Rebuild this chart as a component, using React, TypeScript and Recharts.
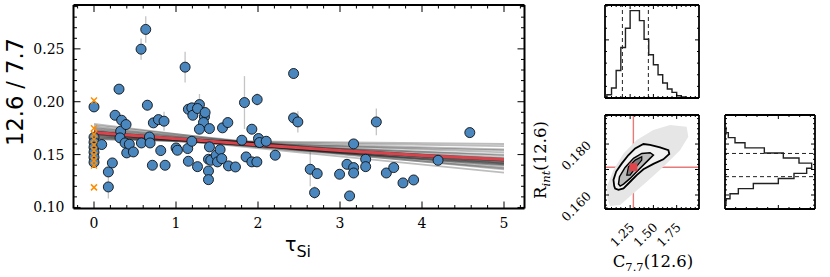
import React from "react";
import {
  ComposedChart,
  Scatter,
  Line,
  XAxis,
  YAxis,
  ErrorBar,
  ReferenceLine,
} from "recharts";

// ---- main panel: tau_Si vs 12.6/7.7 ----
const tauSi = [
  0, 0, 0, 0, 0, 0, 0, 0.094, 0.175, 0.175,
  0.224, 0.257, 0.305, 0.337, 0.325, 0.317, 0.391, 0.379, 0.399, 0.431,
  0.48, 0.574, 0.631, 0.651, 0.578, 0.676, 0.684, 0.712, 0.724, 0.786,
  0.814, 0.854, 0.867, 1.001, 1.017, 1.111, 1.143, 1.151, 1.151, 1.193,
  1.205, 1.193, 1.262, 1.286, 1.262, 1.347, 1.335, 1.355, 1.286, 1.408,
  1.396, 1.408, 1.396, 1.396, 1.424, 1.49, 1.506, 1.538, 1.558, 1.567,
  1.632, 1.64, 1.725, 1.803, 1.835, 1.855, 1.925, 1.925, 1.986, 1.99,
  2.006, 2.019, 2.1, 2.21, 2.434, 2.434, 2.486, 2.637, 2.69, 2.722,
  2.995, 3.085, 3.117, 3.166, 3.166, 3.166, 3.313, 3.313, 3.443, 3.565,
  3.655, 3.768, 3.898, 4.196, 4.583,
];
const ratio = [
  0.1951, 0.1664, 0.1616, 0.1569, 0.1522, 0.1474, 0.1427, 0.1595, 0.1336, 0.1194,
  0.1421, 0.1872, 0.2119, 0.1825, 0.1721, 0.1658, 0.1784, 0.161, 0.1516, 0.1598,
  0.1525, 0.2497, 0.2684, 0.1967, 0.161, 0.1667, 0.161, 0.1399, 0.18, 0.1831,
  0.1538, 0.1816, 0.1399, 0.1563, 0.1541, 0.2327, 0.1557, 0.1437, 0.1929, 0.1942,
  0.1872, 0.1626, 0.1386, 0.1973, 0.1936, 0.1857, 0.1803, 0.1898, 0.174, 0.1746,
  0.1456, 0.1573, 0.1345, 0.1263, 0.1446, 0.1494, 0.1431, 0.1547, 0.1462, 0.1753,
  0.1803, 0.1393, 0.1383, 0.1636, 0.1992, 0.1478, 0.174, 0.1431, 0.1431, 0.2021,
  0.1652, 0.1614, 0.1626, 0.1494, 0.2267, 0.1847, 0.1809, 0.1361, 0.114, 0.132,
  0.1314, 0.1408, 0.1109, 0.1601, 0.1377, 0.1326, 0.1456, 0.1386, 0.1809, 0.1326,
  0.1377, 0.1232, 0.126, 0.1446, 0.1708,
];
const ratioErr = [
  0.004, 0.003, 0.003, 0.003, 0.003, 0.003, 0.003, 0.003, 0.004, 0.011,
  0.003, 0.003, 0.003, 0.003, 0.003, 0.003, 0.003, 0.003, 0.003, 0.003,
  0.003, 0.01, 0.0125, 0.005, 0.003, 0.003, 0.003, 0.003, 0.003, 0.003,
  0.003, 0.009, 0.003, 0.003, 0.003, 0.0145, 0.003, 0.003, 0.003, 0.003,
  0.003, 0.003, 0.003, 0.01, 0.003, 0.003, 0.003, 0.003, 0.003, 0.003,
  0.003, 0.003, 0.003, 0.003, 0.003, 0.003, 0.003, 0.003, 0.003, 0.003,
  0.003, 0.003, 0.003, 0.003, 0.025, 0.003, 0.003, 0.003, 0.003, 0.006,
  0.003, 0.003, 0.003, 0.003, 0.005, 0.003, 0.01, 0.016, 0.006, 0.003,
  0.003, 0.003, 0.003, 0.003, 0.003, 0.003, 0.003, 0.003, 0.0126, 0.003,
  0.003, 0.003, 0.003, 0.003, 0.003,
];

// sources at tau = 0 (orange crosses)
const limitTau = [0, 0, 0, 0, 0, 0, 0, 0, 0, 0];
const limitRatio = [0.2011, 0.1749, 0.1695, 0.1648, 0.1591, 0.1538, 0.1491, 0.1443, 0.1396, 0.119];

// posterior draws, sampled at three tau values
const drawTau = [0, 2.5, 5];
const drawStart = [0.179, 0.1775, 0.176, 0.175, 0.174, 0.1732, 0.1725, 0.1718, 0.1712, 0.1705, 0.17, 0.1695, 0.169, 0.1685, 0.1678, 0.1672, 0.1665, 0.1658, 0.165, 0.1645, 0.172, 0.1708, 0.1698, 0.1715, 0.1712, 0.1702, 0.1718, 0.1706];
const drawMid = [0.156, 0.1575, 0.1545, 0.158, 0.155, 0.157, 0.1535, 0.156, 0.1575, 0.155, 0.158, 0.154, 0.1565, 0.159, 0.1555, 0.16, 0.157, 0.161, 0.159, 0.162, 0.152, 0.1565, 0.156, 0.1545, 0.1558, 0.1555, 0.1552, 0.1562];
const drawEnd = [0.138, 0.142, 0.136, 0.145, 0.14, 0.144, 0.137, 0.143, 0.147, 0.142, 0.149, 0.141, 0.146, 0.152, 0.145, 0.155, 0.15, 0.158, 0.154, 0.16, 0.133, 0.145, 0.144, 0.14, 0.1435, 0.1445, 0.1415, 0.1465];

// best fit
const bestTau = [0, 1, 2, 3, 4, 5];
const bestRatio = [0.171, 0.165, 0.1592, 0.1538, 0.1492, 0.1453];

const mainXMajor = [0, 1, 2, 3, 4, 5];
const mainYMajor = [0.1, 0.15, 0.2, 0.25];

// ---- corner plot ----
const cBinLeft = [1.0, 1.05, 1.1, 1.15, 1.2, 1.25, 1.3, 1.35, 1.4, 1.45, 1.5, 1.55, 1.6, 1.65, 1.7, 1.75, 1.8];
const cCounts = [10, 30, 83, 152, 210, 263, 263, 233, 177, 130, 100, 70, 45, 27, 17, 7, 3];
const cQuantiles = [1.167, 1.446];

const rBinLow = [0.1565, 0.1585, 0.1605, 0.1625, 0.1645, 0.1665, 0.1685, 0.1705, 0.1725, 0.1745, 0.1765, 0.1785, 0.1805, 0.1825, 0.1845];
const rCounts = [3, 15, 40, 85, 160, 207, 245, 260, 222, 175, 118, 60, 30, 10, 3];
const rQuantiles = [0.1672, 0.1763];

const truthC = 1.285;
const truthR = 0.1709;

const cloudC = [1.007, 1.0, 1.071, 1.179, 1.321, 1.5, 1.679, 1.857, 1.875, 1.786, 1.607, 1.429, 1.286, 1.143, 1.036];
const cloudR = [0.1583, 0.1633, 0.1698, 0.1763, 0.1816, 0.1855, 0.1875, 0.1868, 0.1829, 0.1776, 0.1711, 0.1652, 0.1607, 0.1561, 0.1557];
const outerC = [1.079, 1.071, 1.1, 1.161, 1.232, 1.304, 1.393, 1.464, 1.571, 1.661, 1.671, 1.607, 1.5, 1.393, 1.321, 1.25, 1.179, 1.125, 1.089];
const outerR = [0.1635, 0.1659, 0.1692, 0.1724, 0.1757, 0.1783, 0.18, 0.1797, 0.1787, 0.1776, 0.1761, 0.174, 0.1722, 0.1701, 0.1678, 0.1652, 0.1626, 0.162, 0.1625];
const midC = [1.125, 1.136, 1.196, 1.286, 1.375, 1.464, 1.5, 1.429, 1.339, 1.25, 1.179, 1.143];
const midR = [0.1643, 0.1672, 0.1708, 0.1744, 0.1763, 0.1766, 0.1757, 0.1731, 0.1698, 0.1665, 0.1643, 0.1635];
const innerC = [1.214, 1.232, 1.304, 1.375, 1.375, 1.304, 1.25];
const innerR = [0.1678, 0.1711, 0.1737, 0.175, 0.1737, 0.1705, 0.1678];

const cMajor = [1.25, 1.5, 1.75];
const rMajor = [0.16, 0.17, 0.18];
const rLabelled = [0.16, 0.18];

const SERIF = "'DejaVu Serif', serif";
const SANS = "'DejaVu Sans', sans-serif";

const steps = (a: number, b: number, d: number) =>
  Array.from({ length: Math.round((b - a) / d) + 1 }, (_, i) => +(a + i * d).toFixed(6));

type Side = "bottom" | "top" | "left" | "right";
type TickOpts = {
  side: Side;
  major: number[];
  big: number;
  small: number;
  labels?: number[];
  fmt?: (v: number) => string;
  size?: number;
  tilt?: boolean;
};

const near = (list: number[], v: number) => list.some((m) => Math.abs(m - v) < 1e-6);

// inward ticks (matplotlib style), drawn at the axis scale position
function makeTick(o: TickOpts) {
  return function Tick(props: any) {
    const { x, y, payload } = props;
    const v = Number(payload.value);
    const len = near(o.major, v) ? o.big : o.small;
    const x2 = o.side === "left" ? x + len : o.side === "right" ? x - len : x;
    const y2 = o.side === "bottom" ? y - len : o.side === "top" ? y + len : y;
    let label = null;
    if (o.fmt && o.labels && near(o.labels, v)) {
      const s = o.fmt(v);
      const fs = o.size ?? 14;
      if (o.tilt) {
        const px = o.side === "bottom" ? x + 5 : x - 13;
        const py = o.side === "bottom" ? y + 19 : y + 2;
        label = (
          <text x={px} y={py} textAnchor="end" transform={`rotate(-45 ${px} ${py})`} fontFamily={SERIF} fontSize={fs} fill="#000">
            {s}
          </text>
        );
      } else if (o.side === "bottom") {
        label = (
          <text x={x} y={y + 19} textAnchor="middle" fontFamily={SERIF} fontSize={fs} fill="#000">
            {s}
          </text>
        );
      } else {
        label = (
          <text x={x - 9} y={y + 5} textAnchor="end" fontFamily={SERIF} fontSize={fs} fill="#000">
            {s}
          </text>
        );
      }
    }
    return (
      <g>
        <line x1={x} y1={y} x2={x2} y2={y2} stroke="#000" strokeWidth={1} />
        {label}
      </g>
    );
  };
}

const axisBase = {
  type: "number" as const,
  allowDataOverflow: true,
  tickLine: false,
  tickSize: 0,
  tickMargin: 0,
  interval: 0 as const,
};

const frame = { stroke: "#000", strokeWidth: 2 };
const thinFrame = { stroke: "#000", strokeWidth: 1.8 };

const mainPoints = tauSi.map((t, i) => ({ x: t, y: ratio[i], e: ratioErr[i] }));
const limitPoints = limitTau.map((t, i) => ({ x: t, y: limitRatio[i] }));
const draws = drawStart.map((s, i) => [
  { x: drawTau[0], y: s },
  { x: drawTau[1], y: drawMid[i] },
  { x: drawTau[2], y: drawEnd[i] },
]);
const bestLine = bestTau.map((t, i) => ({ x: t, y: bestRatio[i] }));

const cBinWidth = cBinLeft[1] - cBinLeft[0];
const cHist = [
  { x: cBinLeft[0], y: 0 },
  ...cBinLeft.map((e, i) => ({ x: e, y: cCounts[i] })),
  { x: cBinLeft[cBinLeft.length - 1] + cBinWidth, y: 0 },
];
const rBinWidth = rBinLow[1] - rBinLow[0];
const rHist = [
  { x: 0, y: rBinLow[0] },
  ...rBinLow.map((r, i) => ({ x: rCounts[i], y: r })),
  { x: 0, y: rBinLow[rBinLow.length - 1] + rBinWidth },
];

const toPts = (cs: number[], rs: number[]) => cs.map((c, i) => ({ x: c, y: rs[i] }));
const regions = [
  { pts: toPts(cloudC, cloudR), fill: "#e6e6e6", stroke: "none", w: 0 },
  { pts: toPts(outerC, outerR), fill: "#f2f2f2", stroke: "#000", w: 1.8 },
  { pts: toPts(midC, midR), fill: "#bcbcbc", stroke: "#000", w: 1.5 },
  { pts: toPts(innerC, innerR), fill: "#7d7d7d", stroke: "#000", w: 1.2 },
];

const CDOM: [number, number] = [0.98, 1.99];
const RDOM: [number, number] = [0.1545, 0.1914];

const noShape = () => <g />;

function MainPanel() {
  const xt = steps(-0.2, 5.2, 0.2);
  const yt = steps(0.1, 0.29, 0.01);
  return (
    <ComposedChart width={540} height={277} margin={{ top: 4, right: 14.5, bottom: 0, left: 0 }}>
      <XAxis {...axisBase} xAxisId="b" dataKey="x" orientation="bottom" height={68.5} domain={[-0.25, 5.25]} ticks={xt} axisLine={frame}
        tick={makeTick({ side: "bottom", major: mainXMajor, big: 7, small: 3.5, labels: mainXMajor, fmt: (v) => String(v) })} />
      <XAxis {...axisBase} xAxisId="t" dataKey="x" orientation="top" height={1} domain={[-0.25, 5.25]} ticks={xt} axisLine={frame}
        tick={makeTick({ side: "top", major: mainXMajor, big: 7, small: 3.5 })} />
      <YAxis {...axisBase} yAxisId="l" dataKey="y" orientation="left" width={73.5} domain={[0.099, 0.2915]} ticks={yt} axisLine={frame}
        tick={makeTick({ side: "left", major: mainYMajor, big: 7, small: 3.5, labels: mainYMajor, fmt: (v) => v.toFixed(2) })} />
      <YAxis {...axisBase} yAxisId="r" dataKey="y" orientation="right" width={1} domain={[0.099, 0.2915]} ticks={yt} axisLine={frame}
        tick={makeTick({ side: "right", major: mainYMajor, big: 7, small: 3.5 })} />

      <Scatter xAxisId="b" yAxisId="l" data={mainPoints} isAnimationActive={false}
        shape={(p: any) => <circle cx={p.cx} cy={p.cy} r={5} fill="#4a87bf" stroke="#111" strokeWidth={0.9} />}>
        <ErrorBar dataKey="e" direction="y" width={0} stroke="#c4c4c4" strokeWidth={1.3} />
      </Scatter>
      <Scatter xAxisId="b" yAxisId="l" data={limitPoints} isAnimationActive={false}
        shape={(p: any) => (
          <g stroke="#ff8c00" strokeWidth={1.5}>
            <line x1={p.cx - 3} y1={p.cy - 3} x2={p.cx + 3} y2={p.cy + 3} />
            <line x1={p.cx - 3} y1={p.cy + 3} x2={p.cx + 3} y2={p.cy - 3} />
          </g>
        )} />
      {draws.map((d, i) => (
        <Line key={i} xAxisId="b" yAxisId="l" data={d} dataKey="y" type="monotone" dot={false} activeDot={false}
          stroke="#000" strokeOpacity={0.26} strokeWidth={1.8} isAnimationActive={false} />
      ))}
      <Line xAxisId="b" yAxisId="l" data={bestLine} dataKey="y" type="monotone" dot={false} activeDot={false}
        stroke="#d8444c" strokeWidth={3} isAnimationActive={false} />
    </ComposedChart>
  );
}

function TopHist() {
  const ct = steps(1.0, 1.95, 0.05);
  const yt = steps(35, 245, 35);
  return (
    <ComposedChart width={98} height={97} margin={{ top: 1, right: 1, bottom: 1, left: 1 }}>
      <XAxis {...axisBase} xAxisId="b" dataKey="x" height={1} domain={CDOM} ticks={ct} axisLine={thinFrame}
        tick={makeTick({ side: "bottom", major: cMajor, big: 4, small: 2 })} />
      <XAxis {...axisBase} xAxisId="t" dataKey="x" orientation="top" height={1} domain={CDOM} ticks={ct} axisLine={thinFrame}
        tick={makeTick({ side: "top", major: cMajor, big: 4, small: 2 })} />
      <YAxis {...axisBase} yAxisId="l" dataKey="y" width={1} domain={[0, 280]} ticks={yt} axisLine={thinFrame}
        tick={makeTick({ side: "left", major: [175], big: 4, small: 2 })} />
      <YAxis {...axisBase} yAxisId="r" dataKey="y" orientation="right" width={1} domain={[0, 280]} ticks={yt} axisLine={thinFrame}
        tick={makeTick({ side: "right", major: [175], big: 4, small: 2 })} />
      <Line xAxisId="b" yAxisId="l" data={cHist} dataKey="y" type="stepAfter" dot={false} activeDot={false}
        stroke="#222" strokeWidth={1.4} isAnimationActive={false} />
      {cQuantiles.map((q) => (
        <ReferenceLine key={q} xAxisId="b" yAxisId="l" x={q} stroke="#222" strokeDasharray="4 3" strokeWidth={1} />
      ))}
    </ComposedChart>
  );
}

function JointPanel() {
  const ct = steps(1.0, 1.95, 0.05);
  const rt = steps(0.156, 0.19, 0.002);
  return (
    <ComposedChart width={176} height={164} margin={{ top: 1, right: 1, bottom: 67, left: 79 }}>
      <XAxis {...axisBase} xAxisId="b" dataKey="x" height={1} domain={CDOM} ticks={ct} axisLine={thinFrame}
        tick={makeTick({ side: "bottom", major: cMajor, big: 4, small: 2, labels: cMajor, fmt: (v) => v.toFixed(2), size: 12.5, tilt: true })} />
      <XAxis {...axisBase} xAxisId="t" dataKey="x" orientation="top" height={1} domain={CDOM} ticks={ct} axisLine={thinFrame}
        tick={makeTick({ side: "top", major: cMajor, big: 4, small: 2 })} />
      <YAxis {...axisBase} yAxisId="l" dataKey="y" width={1} domain={RDOM} ticks={rt} axisLine={thinFrame}
        tick={makeTick({ side: "left", major: rMajor, big: 4, small: 2, labels: rLabelled, fmt: (v) => v.toFixed(3), size: 12.5, tilt: true })} />
      <YAxis {...axisBase} yAxisId="r" dataKey="y" orientation="right" width={1} domain={RDOM} ticks={rt} axisLine={thinFrame}
        tick={makeTick({ side: "right", major: rMajor, big: 4, small: 2 })} />
      {regions.map((g, i) => (
        <Scatter key={i} xAxisId="b" yAxisId="l" data={g.pts} isAnimationActive={false} shape={noShape}
          line={{ stroke: g.stroke, strokeWidth: g.w, fill: g.fill }} lineJointType="linearClosed" />
      ))}
      <ReferenceLine xAxisId="b" yAxisId="l" x={truthC} stroke="#e87a7a" strokeWidth={1.4} />
      <ReferenceLine xAxisId="b" yAxisId="l" y={truthR} stroke="#e87a7a" strokeWidth={1.4} />
      <Scatter xAxisId="b" yAxisId="l" data={[{ x: truthC, y: truthR }]} isAnimationActive={false}
        shape={(p: any) => <rect x={p.cx - 4} y={p.cy - 4} width={8} height={8} fill="#e0454c" />} />
    </ComposedChart>
  );
}

function SideHist() {
  const xt = steps(32, 256, 32);
  const rt = steps(0.156, 0.19, 0.002);
  return (
    <ComposedChart width={94} height={98} margin={{ top: 1, right: 1, bottom: 1, left: 1 }}>
      <XAxis {...axisBase} xAxisId="b" dataKey="x" height={1} domain={[0, 270]} ticks={xt} axisLine={thinFrame}
        tick={makeTick({ side: "bottom", major: [160], big: 4, small: 2 })} />
      <XAxis {...axisBase} xAxisId="t" dataKey="x" orientation="top" height={1} domain={[0, 270]} ticks={xt} axisLine={thinFrame}
        tick={makeTick({ side: "top", major: [160], big: 4, small: 2 })} />
      <YAxis {...axisBase} yAxisId="l" dataKey="y" width={1} domain={RDOM} ticks={rt} axisLine={thinFrame}
        tick={makeTick({ side: "left", major: rMajor, big: 4, small: 2 })} />
      <YAxis {...axisBase} yAxisId="r" dataKey="y" orientation="right" width={1} domain={RDOM} ticks={rt} axisLine={thinFrame}
        tick={makeTick({ side: "right", major: rMajor, big: 4, small: 2 })} />
      <Scatter xAxisId="b" yAxisId="l" data={rHist} isAnimationActive={false} shape={noShape}
        line={{ stroke: "#222", strokeWidth: 1.4, fill: "none" }} lineJointType="stepBefore" />
      {rQuantiles.map((q) => (
        <ReferenceLine key={q} xAxisId="b" yAxisId="l" y={q} stroke="#222" strokeDasharray="4 3" strokeWidth={1} />
      ))}
    </ComposedChart>
  );
}

export default function App() {
  return (
    <div style={{ position: "absolute", left: 0, top: 0, width: 830, height: 277, background: "#fff", overflow: "hidden" }}>
      <div style={{ position: "absolute", left: 0, top: 0 }}>
        <MainPanel />
      </div>
      <div style={{ position: "absolute", left: 603, top: 3 }}>
        <TopHist />
      </div>
      <div style={{ position: "absolute", left: 525, top: 113 }}>
        <JointPanel />
      </div>
      <div style={{ position: "absolute", left: 723, top: 113 }}>
        <SideHist />
      </div>
      <svg width={830} height={277} style={{ position: "absolute", left: 0, top: 0, pointerEvents: "none" }}>
        <text x={23} y={92} transform="rotate(-90 23 92)" textAnchor="middle" fontFamily={SANS} fontSize={22.5} fill="#000">
          12.6 / 7.7
        </text>
        <text x={285} y={251} fontFamily={SANS} fontSize={19} fill="#000">
          τ<tspan fontSize={16} dy={6}>Si</tspan>
        </text>
        <text x={546} y={160} transform="rotate(-90 546 160)" textAnchor="middle" fontFamily={SERIF} fontSize={16.5} fill="#000">
          R<tspan fontSize={11.5} fontStyle="italic" dy={4}>int</tspan>
          <tspan dy={-4}>(12.6)</tspan>
        </text>
        <text x={653} y={267} textAnchor="middle" fontFamily={SERIF} fontSize={16.5} fill="#000">
          C<tspan fontSize={11.5} dy={4}>7.7</tspan>
          <tspan dy={-4}>(12.6)</tspan>
        </text>
      </svg>
    </div>
  );
}
